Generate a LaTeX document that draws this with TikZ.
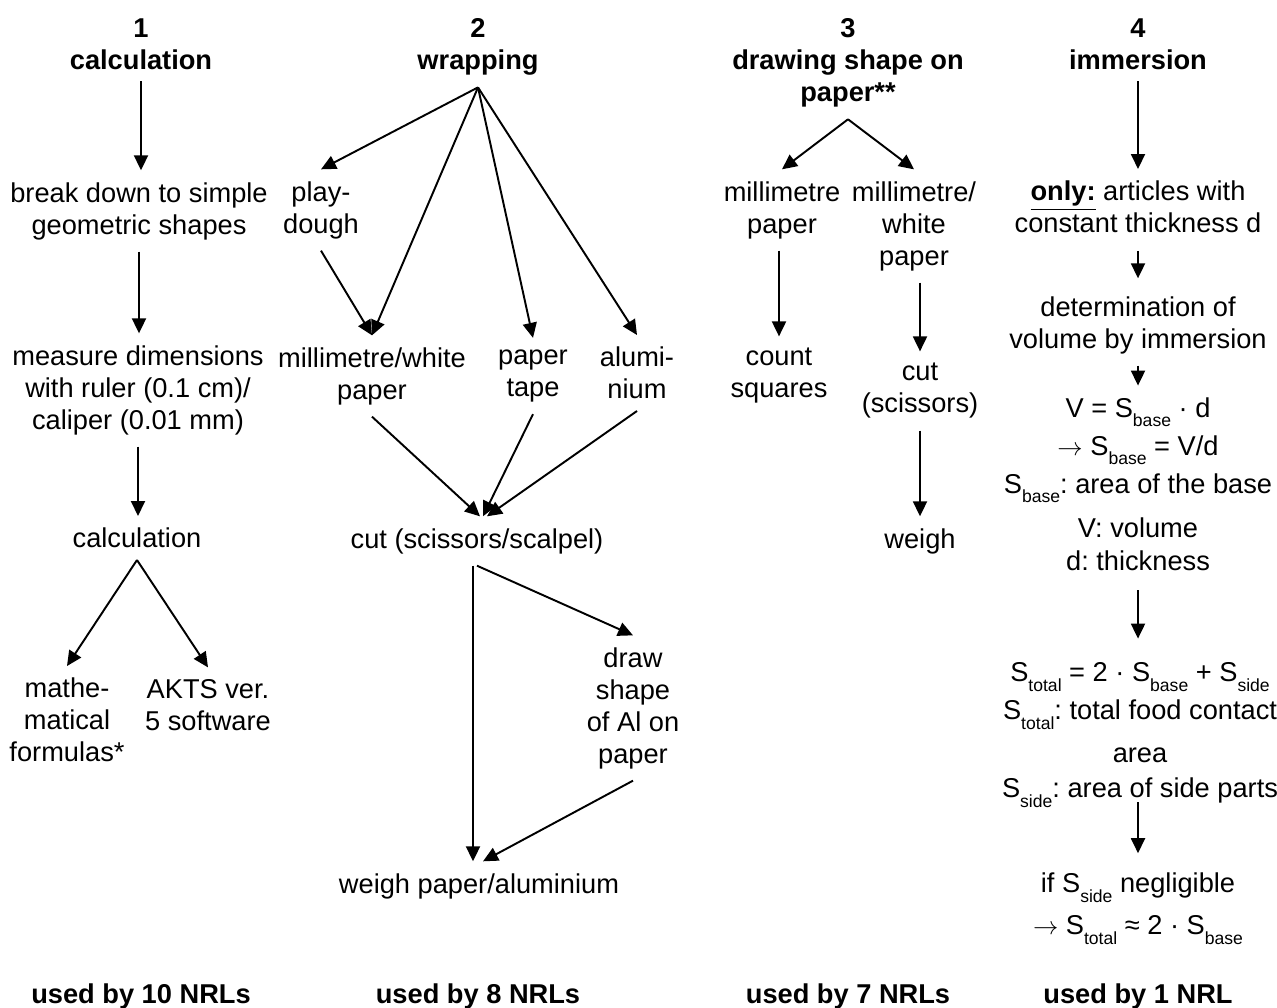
\documentclass[tikz,border=0pt]{standalone}
\usepackage{fontspec}
\setmainfont{Liberation Sans}
\usetikzlibrary{arrows.meta}
\frenchspacing

\newcommand{\fs}{\fontsize{15.5}{18.2}\selectfont}
\newcommand{\lo}[1]{\raisebox{-5.5pt}{\fontsize{10}{10}\selectfont #1}}

\tikzset{
  txt/.style={align=center, inner sep=0pt, outer xsep=0pt, outer ysep=0.24cm},
  hd/.style={txt, font=\fs\bfseries},
  arr/.style={-{Triangle[length=0.3cm,width=0.28cm]}, line width=1.1pt},
}

\begin{document}
\begin{tikzpicture}[x=0.02cm, y=-0.02cm, font=\fs]
  \useasboundingbox (0,0) rectangle (1277,1007);

  % headers
  \node[hd] (h1) at (141,44) {1\\calculation};
  \node[hd] (h2) at (478,47) {2\\wrapping};
  \node[hd] (h3) at (848,63) {3\\drawing shape on\\paper**};
  \node[hd] (h4) at (1138,44) {4\\immersion};

  % 1
  \node[txt] (brk) at (139,211) {break down to simple\\geometric shapes};
  \node[txt] (meas) at (138,390) {measure dimensions\\with ruler (0.1 cm)/\\caliper (0.01 mm)};
  \node[txt] (calc) at (137,538) {calculation};
  \node[txt] (math) at (67,720) {mathe-\\matical\\formulas*};
  \node[txt] (akts) at (208,705) {AKTS ver.\\5 software};

  % 2
  \node[txt] (play) at (321,210) {play-\\dough};
  \node[txt] (mwp) at (372,376) {millimetre/white\\paper};
  \node[txt] (tape) at (533,376) {paper\\tape};
  \node[txt] (alu) at (637,373) {alumi-\\nium};
  \node[txt] (cut) at (477,541) {cut (scissors/scalpel)};
  \node[txt] (shp) at (633,708) {draw\\shape\\of Al on\\paper};
  \node[txt] (wpa) at (479,886) {weigh paper/aluminium};

  % 3
  \node[txt] (mmp) at (782,210) {millimetre\\paper};
  \node[txt] (mwp3) at (914,226) {millimetre/\\white\\paper};
  \node[txt] (cnt) at (779,376) {count\\squares};
  \node[txt] (cut3) at (920,391) {cut\\(scissors)};
  \node[txt] (wgh) at (920,541) {weigh};

  % 4
  \node[txt] (only) at (1138,207) {\underline{\textbf{only:}} articles with\\constant thickness d};
  \node[txt] (det) at (1138,325) {determination of\\volume by immersion};
  \node[txt] (vol) at (1138,484) {V = S\lo{base} · d\\[3.4pt]$\rightarrow$ S\lo{base} = V/d\\[3.4pt]S\lo{base}: area of the base\\[6.8pt]V: volume\\[0.6pt]d: thickness};
  \node[txt] (tot) at (1140,735) {S\lo{total} = 2 · S\lo{base} + S\lo{side}\\[3.4pt]S\lo{total}: total food contact\\[6.3pt]area\\[1.7pt]S\lo{side}: area of side parts};
  \node[txt] (negl) at (1138,909) {if S\lo{side} negligible\\[5.7pt]$\rightarrow$ S\lo{total} ≈ 2 · S\lo{base}};

  % footer
  \node[hd] (u1) at (141,996) {used by 10 NRLs};
  \node[hd] (u2) at (478,996) {used by 8 NRLs};
  \node[hd] (u3) at (848,996) {used by 7 NRLs};
  \node[hd] (u4) at (1138,996) {used by 1 NRL};

  % arrows 1
  \draw[arr] (h1.south) -- (h1.south |- brk.north);
  \draw[arr] (brk.south) -- (brk.south |- meas.north);
  \draw[arr] (meas.south) -- (meas.south |- calc.north);
  \draw[arr] (calc.south) -- (math.north);
  \draw[arr] (calc.south) -- (akts.north);

  % arrows 2
  \draw[arr] (h2.south) -- (play.north);
  \draw[arr] (h2.south) -- (mwp.north);
  \draw[arr] (h2.south) -- (tape.north);
  \draw[arr] (h2.south) -- (alu.north);
  \draw[arr] (play.south) -- (mwp.north);
  \draw[arr] (mwp.south) -- ([xshift=0.06cm]cut.north);
  \draw[arr] (tape.south) -- ([xshift=0.12cm]cut.north);
  \draw[arr] (alu.south) -- ([xshift=0.2cm]cut.north);
  \draw[arr] ([xshift=-0.08cm]cut.south) -- ([xshift=-0.08cm]cut.south |- wpa.north);
  \draw[arr] (cut.south) -- (shp.north);
  \draw[arr] (shp.south) -- ([xshift=0.08cm]wpa.north);

  % arrows 3
  \draw[arr] (h3.south) -- (mmp.north);
  \draw[arr] (h3.south) -- (mwp3.north);
  \draw[arr] (cnt.north |- mmp.south) -- (cnt.north);
  \draw[arr] (cut3.north |- mwp3.south) -- (cut3.north);
  \draw[arr] (cut3.south) -- (wgh.north);

  % arrows 4
  \draw[arr] (h4.south) -- (only.north);
  \draw[arr, shorten <=0.12cm, shorten >=0.12cm] (only.south) -- (det.north);
  \draw[arr] (det.south) -- (vol.north);
  \draw[arr, shorten <=0.16cm, shorten >=0.24cm] (vol.south) -- (vol.south |- tot.north);
  \draw[arr, shorten <=-0.34cm, shorten >=0.16cm] (vol.south |- tot.south) -- (vol.south |- negl.north);
\end{tikzpicture}
\end{document}
